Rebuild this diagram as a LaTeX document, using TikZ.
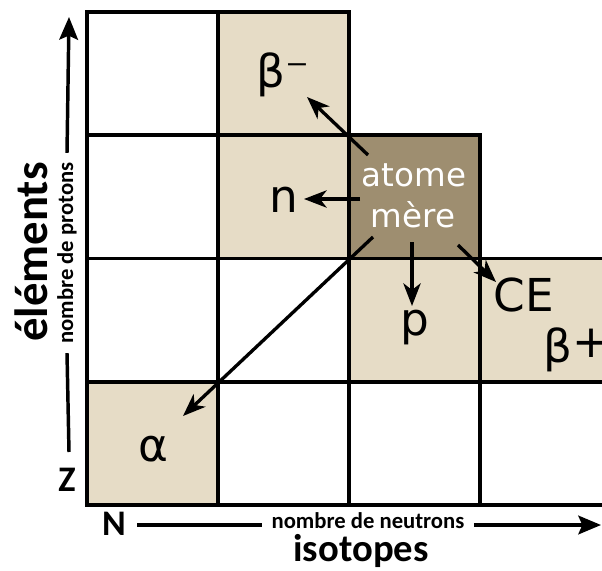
\documentclass[tikz,border=0pt]{standalone}
\usepackage{fontspec}
\setmainfont{DejaVu Sans}
\newfontfamily\axisfont{Carlito}
\usetikzlibrary{arrows.meta}
\definecolor{beige}{RGB}{230,220,198}
\definecolor{brun}{RGB}{158,142,112}
\begin{document}
\begin{tikzpicture}[x=0.75pt,y=-0.75pt,
  cell/.style={draw=black, line width=2.7pt, minimum width=98.25pt, minimum height=92.44pt,
    inner sep=0pt, outer sep=0pt, anchor=north west},
  plain/.style={cell, fill=white},
  light/.style={cell, fill=beige},
  dark/.style={cell, fill=brun},
  lbl/.style={inner sep=0pt, anchor=base, font=\fontsize{34}{40}\selectfont},
  mother/.style={inner sep=0pt, anchor=base, text=white, font=\fontsize{24.4}{30}\selectfont},
  arr/.style={line width=2.5pt, -{Stealth[length=17pt,width=13pt,inset=5pt]}},
  axisline/.style={line width=2.6pt},
  axisarr/.style={line width=2.6pt, -{Stealth[length=17pt,width=14pt,inset=3pt]}},
  axlbl/.style={inner sep=0pt, font=\axisfont\bfseries}
]
\clip (0,0) rectangle (602,570);
\useasboundingbox (0,0) rectangle (602,570);
% white cells
\node[plain] (r1c1) at (87,12) {};
\node[plain] (r2c1) at (87,135.25) {};
\node[plain] (r3c1) at (87,258.5) {};
\node[plain] (r3c2) at (218,258.5) {};
\node[plain] (r4c2) at (218,381.75) {};
\node[plain] (r4c3) at (349,381.75) {};
\node[plain] (r4c4) at (480,381.75) {};
% beige cells
\node[light] (r1c2) at (218,12) {};
\node[light] (r2c2) at (218,135.25) {};
\node[light] (r3c3) at (349,258.5) {};
\node[light] (r3c4) at (480,258.5) {};
\node[light] (r4c1) at (87,381.75) {};
% parent atom
\node[dark] (r2c3) at (349,135.25) {};
\node[mother] (atome) at (414,187) {atome};
\node[mother] (mere) at (413,227) {mère};
% labels
\node[lbl] (bminus) at (283,88) {β⁻};
\node[lbl] (n) at (284,213) {n};
\node[lbl] (p) at (415,335) {p};
\node[lbl] (ce) at (524,311) {CE};
\node[lbl, anchor=base west] (bplus) at (543,362) {β\raisebox{0.1em}{+}};
\node[lbl] (alpha) at (153,461) {α};
% decay arrows
\coordinate (bmT) at (368,155); \coordinate (bmH) at (307,97);
\coordinate (nT) at (360,199);  \coordinate (nH) at (304,199);
\coordinate (pT) at (412,242);  \coordinate (pH) at (412,306);
\coordinate (ceT) at (458,245); \coordinate (ceH) at (496,282);
\coordinate (aT) at (373,237);  \coordinate (aH) at (183,416);
\draw[arr] (bmT) -- (bmH);
\draw[arr] (nT) -- (nH);
\draw[arr] (pT) -- (pH);
\draw[arr] (ceT) -- (ceH);
\draw[arr] (aT) -- (aH);
% vertical axis
\node[axlbl, rotate=90, font=\axisfont\bfseries\fontsize{35}{40}\selectfont] (elem) at (31,252) {éléments};
\node[axlbl, rotate=90, inner xsep=7pt, font=\axisfont\bfseries\fontsize{17}{20}\selectfont] (protons) at (67,253) {nombre de protons};
\node[axlbl, font=\axisfont\bfseries\fontsize{27}{30}\selectfont] (Z) at (67,480) {Z};
\coordinate (ytop) at (69,17);
\coordinate (ybot) at (69,452);
\draw[axisarr] (protons.east) -- (ytop);
\draw[axisline] (protons.west) -- (ybot);
% horizontal axis
\node[axlbl, font=\axisfont\bfseries\fontsize{27}{30}\selectfont] (N) at (114,524) {N};
\node[axlbl, inner xsep=7pt, font=\axisfont\bfseries\fontsize{17}{20}\selectfont] (neutrons) at (368,521) {nombre de neutrons};
\node[axlbl, anchor=base, font=\axisfont\bfseries\fontsize{29}{32}\selectfont] (iso) at (361,561) {isotopes};
\coordinate (xleft) at (137,525);
\coordinate (xright) at (601,525);
\draw[axisline] (xleft) -- (neutrons.west |- xleft);
\draw[axisarr] (neutrons.east |- xright) -- (xright);
\end{tikzpicture}
\end{document}
